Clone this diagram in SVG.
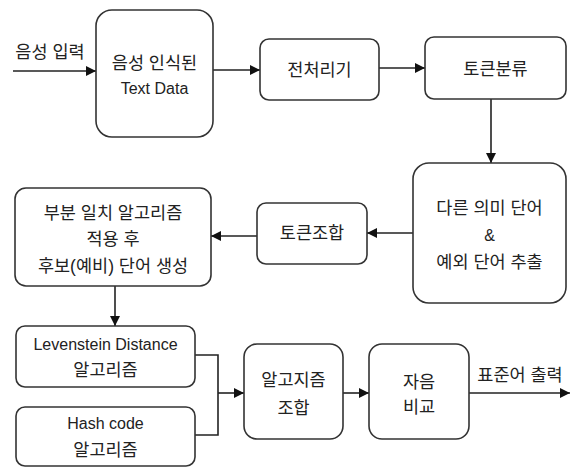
<svg xmlns="http://www.w3.org/2000/svg" width="576" height="467" viewBox="0 0 576 467">
<style>
.box{fill:#fff;stroke:#333;stroke-width:1.6}
.c{fill:none;stroke:#222;stroke-width:1.6}
text{font-family:"Liberation Sans","Noto Sans CJK KR",sans-serif;font-size:17.5px;fill:#222;text-anchor:middle;dominant-baseline:central}
text.l{font-size:16px}
</style>
<defs>
<marker id="ah" markerUnits="userSpaceOnUse" markerWidth="10" markerHeight="10" refX="10" refY="5" orient="auto">
<path d="M0,0 L10,5 L0,10 z" fill="#111"/>
</marker>
</defs>
<rect width="576" height="467" fill="#fff"/>
<g id="connectors">
<path class="c" d="M13,71 H96" marker-end="url(#ah)"/>
<path class="c" d="M213,70 H260" marker-end="url(#ah)"/>
<path class="c" d="M379,68 H425" marker-end="url(#ah)"/>
<path class="c" d="M491,99 V163" marker-end="url(#ah)"/>
<path class="c" d="M413,233 H367" marker-end="url(#ah)"/>
<path class="c" d="M257,236 H211" marker-end="url(#ah)"/>
<path class="c" d="M115,286 V326" marker-end="url(#ah)"/>
<path class="c" d="M195,355 H218 V435 H195"/>
<path class="c" d="M218,393 H244" marker-end="url(#ah)"/>
<path class="c" d="M343,393 H369" marker-end="url(#ah)"/>
<path class="c" d="M469,393 H570" marker-end="url(#ah)"/>
<text x="50" y="52">음성 입력</text>
<text x="520" y="375">표준어 출력</text>
</g>
<g id="n1">
<rect class="box" x="96" y="10" width="117" height="127" rx="16"/>
<text x="154.5" y="63">음성 인식된</text>
<text class="l" x="154.5" y="88">Text Data</text>
</g>
<g id="n2">
<rect class="box" x="260" y="39" width="119" height="61" rx="9"/>
<text x="319.5" y="70">전처리기</text>
</g>
<g id="n3">
<rect class="box" x="425" y="37" width="141" height="62" rx="9"/>
<text x="495.5" y="69">토큰분류</text>
</g>
<g id="n4">
<rect class="box" x="413" y="163" width="153" height="140" rx="16"/>
<text x="489.5" y="208">다른 의미 단어</text>
<text class="l" x="489.5" y="235">&amp;</text>
<text x="489.5" y="262">예외 단어 추출</text>
</g>
<g id="n5">
<rect class="box" x="257" y="203" width="110" height="61" rx="9"/>
<text x="312" y="233">토큰조합</text>
</g>
<g id="n6">
<rect class="box" x="15" y="188" width="196" height="98" rx="11"/>
<text x="113" y="213">부분 일치 알고리즘</text>
<text x="113" y="239">적용 후</text>
<text x="113" y="266">후보(예비) 단어 생성</text>
</g>
<g id="n7">
<rect class="box" x="16" y="326" width="179" height="61" rx="9"/>
<text class="l" x="105.5" y="344">Levenstein Distance</text>
<text x="105.5" y="370">알고리즘</text>
</g>
<g id="n8">
<rect class="box" x="16" y="407" width="179" height="59" rx="9"/>
<text class="l" x="105.5" y="423">Hash code</text>
<text x="105.5" y="450">알고리즘</text>
</g>
<g id="n9">
<rect class="box" x="244" y="344" width="99" height="95" rx="13"/>
<text x="293.5" y="380">알고지즘</text>
<text x="293.5" y="408">조합</text>
</g>
<g id="n10">
<rect class="box" x="369" y="344" width="100" height="95" rx="13"/>
<text x="419" y="382">자음</text>
<text x="419" y="407">비교</text>
</g>
</svg>
